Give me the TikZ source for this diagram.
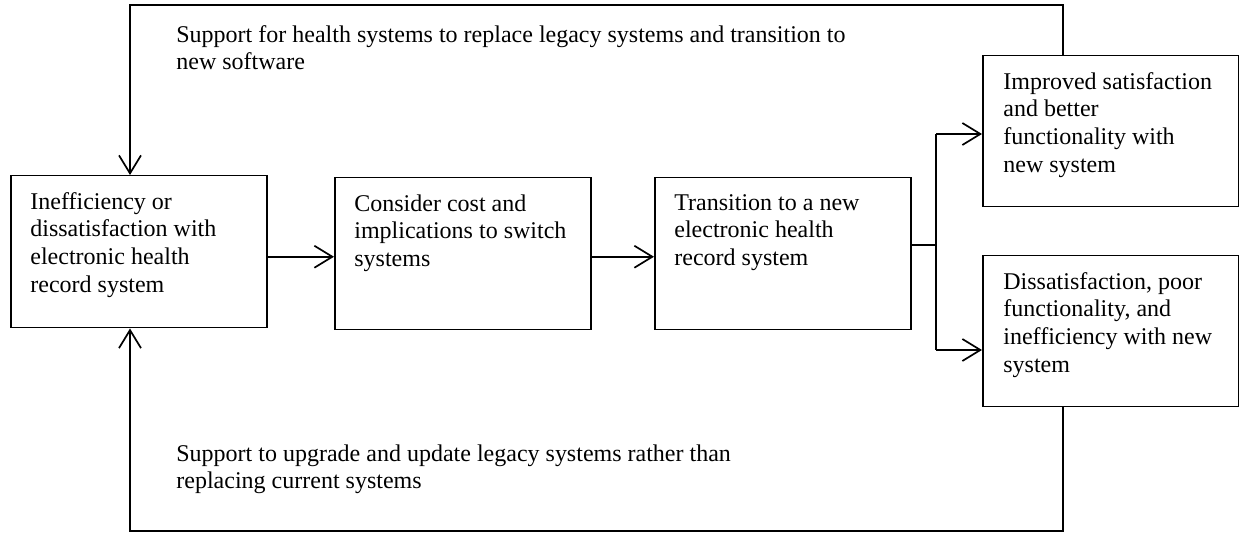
\documentclass[tikz,border=0pt]{standalone}
\usepackage{fontspec}
\setmainfont{Liberation Serif}
\usetikzlibrary{positioning, arrows.meta, calc}

\begin{document}
\begin{tikzpicture}[
        x=0.5pt, y=-0.5pt,
        every node/.style={font=\fontsize{12pt}{13.8pt}\selectfont},
        box/.style={draw, line width=0.75pt, anchor=north west, inner sep=0pt,
            minimum width=128pt, minimum height=76pt},
        boxtext/.style={anchor=north west, align=left, inner sep=0pt},
        link/.style={line width=0.85pt},
        flow/.style={link, -{Straight Barb[length=9pt, width=11pt]}}
    ]
    \useasboundingbox (0,0) rectangle (1239,533);

    % Kaesten
    \node[box] (b1) at (10,175) {};
    \node[box] (b2) at (334,177) {};
    \node[box] (b3) at (654,177) {};
    \node[box, minimum height=75.5pt] (b4) at (982,55) {};
    \node[box, minimum height=75.5pt] (b5) at (982,255) {};

    % Texte in den Kaesten
    \node[boxtext] (t1) at ([shift={(20,17)}]b1.north west)
        {Inefficiency or\\dissatisfaction with\\electronic health\\record system};
    \node[boxtext] (t2) at ([shift={(20,17)}]b2.north west)
        {Consider cost and\\implications to switch\\systems};
    \node[boxtext] (t3) at ([shift={(20,17)}]b3.north west)
        {Transition to a new\\electronic health\\record system};
    \node[boxtext] (t4) at ([shift={(21,17)}]b4.north west)
        {Improved satisfaction\\and better\\functionality with\\new system};
    \node[boxtext] (t5) at ([shift={(21,17)}]b5.north west)
        {Dissatisfaction, poor\\functionality, and\\inefficiency with new\\system};

    % Beschriftungen der Rueckfuehrungen
    \node[boxtext] (top) at (176,25)
        {Support for health systems to replace legacy systems and transition to\\new software};
    \node[boxtext] (bottom) at (176,444)
        {Support to upgrade and update legacy systems rather than\\replacing current systems};

    % Hilfspunkte
    \coordinate (split) at (936,245);
    \coordinate (up) at (936,134);
    \coordinate (down) at (936,350);
    \coordinate (topR) at (1063,5);
    \coordinate (topL) at (130,5);
    \coordinate (botR) at (1063,531);
    \coordinate (botL) at (130,531);

    % Hauptfluss
    \draw[flow] ([yshift=-2.5pt]b1.east) -- ([yshift=-2.5pt]b1.east -| b2.west);
    \draw[flow] ([yshift=-1.5pt]b2.east) -- ([yshift=-1.5pt]b2.east -| b3.west);
    \draw[link] (b3.east |- split) -- (split);
    \draw[link] (up) -- (down);
    \draw[flow] (up) -- (up -| b4.west);
    \draw[flow] (down) -- (down -| b5.west);

    % Rueckfuehrungen
    \draw[flow] (b4.north -| topR) -- (topR) -- (topL) -- (topL |- b1.north);
    \draw[flow] (b5.south -| botR) -- (botR) -- (botL) -- (botL |- b1.south);

\end{tikzpicture}
\end{document}
